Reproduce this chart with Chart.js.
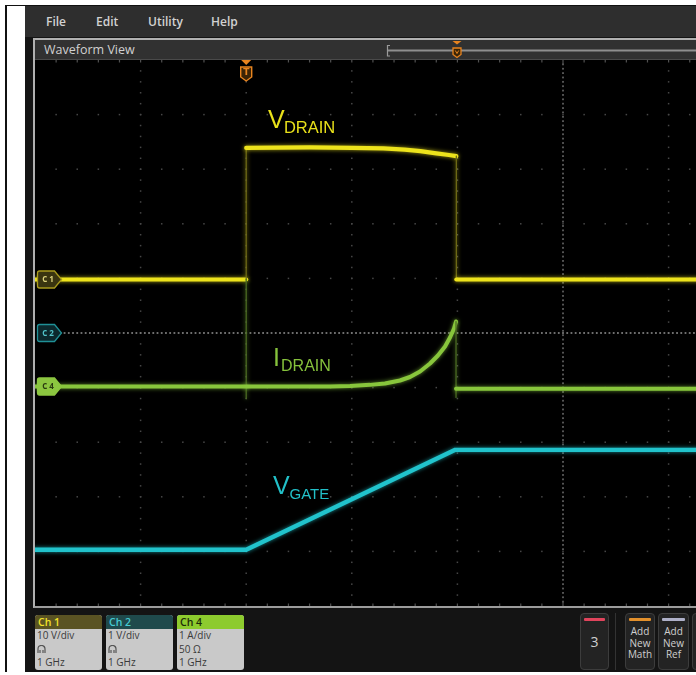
<!DOCTYPE html>
<html>
<head>
<meta charset="utf-8">
<script src="https://cdn.jsdelivr.net/npm/chart.js@4.4.1/dist/chart.umd.min.js"></script>
<style>
  html, body { margin: 0; padding: 0; width: 696px; height: 675px; overflow: hidden; background: #fff; }
  .abs { position: absolute; }
  #edgeL { left: 5px; top: 5px; width: 1.5px; height: 667px; background: #111; }
  #edgeT { left: 5px; top: 5px; width: 700px; height: 1px; background: #111; }
  #screen { left: 25px; top: 6px; width: 700px; height: 666px; background: #141414; }
  #menu { left: 25px; top: 6px; width: 700px; height: 31px; background: #2e2e2e;
          font: 600 12px "Open Sans", sans-serif; color: #d2d2d2; }
  #menu span { position: absolute; top: 7px; }
  #win { left: 33px; top: 38px; width: 700px; height: 566px; background: #000;
         border-left: 2px solid #b0b0b0; border-top: 2px solid #b0b0b0; border-bottom: 2px solid #9c9c9c; }
  #winhead { left: 35px; top: 40px; width: 700px; height: 19px; background: #313131; border-bottom: 1px solid #4a4a4a; }
  #winhead .title { position: absolute; left: 9px; top: 1px; font: 12.5px "Open Sans", sans-serif; color: #d0d0d0; }
  #plot { left: 35px; top: 60px; width: 1056px; height: 546px; }
  .chbox { position: absolute; top: 615px; width: 67px; height: 55px; border-radius: 3px; overflow: hidden;
           background: #c9c9c9; font: 10px "Open Sans", sans-serif; color: #3a3a3a; }
  .chbox .hd { height: 14px; line-height: 14px; padding-left: 3px; font-weight: 600; font-size: 10.5px; }
  .chbox .ln { height: 13.5px; line-height: 13.5px; padding-left: 2px; }
  .btn { position: absolute; top: 613px; height: 57px; background: #232323; border: 1px solid #3c3c3c;
         border-radius: 4px; box-sizing: border-box; font: 10px "Open Sans", sans-serif; color: #cfcfcf;
         text-align: center; }
  .btn .bar { position: absolute; left: 3px; right: 3px; top: 4px; height: 3px; border-radius: 1px; }
  .btn .txt { position: absolute; left: 0; right: 0; top: 12px; line-height: 11.5px; }
</style>
</head>
<body>
<div id="edgeL" class="abs"></div>
<div id="edgeT" class="abs"></div>
<div id="screen" class="abs"></div>
<div id="menu" class="abs">
  <span style="left:21px">File</span>
  <span style="left:71px">Edit</span>
  <span style="left:123px">Utility</span>
  <span style="left:186px">Help</span>
</div>
<div id="win" class="abs"></div>
<div id="winhead" class="abs">
  <div class="title">Waveform View</div>
  <svg class="abs" style="left:348px;top:0" width="360" height="19">
    <line x1="5" y1="10.5" x2="360" y2="10.5" stroke="#8e8e8e" stroke-width="2"/>
    <path d="M7 5.5 H4.5 V16 H7" fill="none" stroke="#9a9a9a" stroke-width="1.2"/>
    <path d="M69.5 1 H78.5 L74 4.5 Z" fill="#e8841f"/>
    <path d="M70 8 H78 V14.5 L74 17.5 L70 14.5 Z" fill="#3a2406" stroke="#e8841f" stroke-width="1.3"/>
    <path d="M72.3 10.5 L74 13.5 L75.7 10.5" fill="none" stroke="#e8841f" stroke-width="1"/>
  </svg>
</div>
<div id="plot" class="abs"><canvas id="scope" width="1056" height="546"></canvas></div>

<div class="chbox" style="left:35px">
  <div class="hd" style="background:#5a5323;color:#f2e22a">Ch 1</div>
  <div class="ln">10 V/div</div>
  <div class="ln"><svg width="10" height="9" style="vertical-align:-1px"><path d="M1 8 V4 A3.5 3.5 0 0 1 8 4 V8 M3 8 V5 M6 8 V5" fill="none" stroke="#555" stroke-width="1.2"/></svg></div>
  <div class="ln">1 GHz</div>
</div>
<div class="chbox" style="left:106px">
  <div class="hd" style="background:#1f4a4c;color:#46ccd3">Ch 2</div>
  <div class="ln">1 V/div</div>
  <div class="ln"><svg width="10" height="9" style="vertical-align:-1px"><path d="M1 8 V4 A3.5 3.5 0 0 1 8 4 V8 M3 8 V5 M6 8 V5" fill="none" stroke="#555" stroke-width="1.2"/></svg></div>
  <div class="ln">1 GHz</div>
</div>
<div class="chbox" style="left:177px">
  <div class="hd" style="background:#8dcb2e;color:#1c2a08">Ch 4</div>
  <div class="ln">1 A/div</div>
  <div class="ln">50 Ω</div>
  <div class="ln">1 GHz</div>
</div>

<div class="btn" style="left:580px;width:29px">
  <div class="bar" style="background:#e0445c"></div>
  <div class="txt" style="top:22px;font-size:14px">3</div>
</div>
<div class="abs" style="left:615px;top:613px;width:1px;height:57px;background:#333"></div>
<div class="btn" style="left:625px;width:30px">
  <div class="bar" style="background:#e3902c"></div>
  <div class="txt">Add<br>New<br>Math</div>
</div>
<div class="btn" style="left:658px;width:31px">
  <div class="bar" style="background:#aeb0c8"></div>
  <div class="txt">Add<br>New<br>Ref</div>
</div>
<div class="btn" style="left:692px;width:31px">
  <div class="bar" style="background:#9b52c6"></div>
</div>

<script>
// Time in horizontal divisions (0..10), levels in vertical divisions (-5..5)
const ch1Time  = [0, 2.00, 2.00, 2.60, 3.00, 3.30, 3.50, 3.65, 3.80, 3.92, 3.99, 3.99, 10];
const ch1Level = [0.98, 0.98, 3.39, 3.40, 3.39, 3.38, 3.36, 3.33, 3.29, 3.26, 3.24, 0.98, 0.98];

const ch4Time  = [0, 2.00, 2.00, 2.00, 2.00, 2.794, 2.983, 3.172, 3.314, 3.456, 3.551, 3.646, 3.741, 3.816, 3.883, 3.930, 3.968, 3.987, 3.987, 3.987, 10];
const ch4Level = [-0.98, -0.98, 0.98, -1.20, -0.98, -0.98, -0.97, -0.95, -0.925, -0.87, -0.806, -0.705, -0.558, -0.412, -0.247, -0.082, 0.082, 0.21, -1.18, -1.02, -1.02];

const ch2Time  = [0, 2.00, 3.98, 10];
const ch2Level = [-3.97, -3.97, -2.14, -2.14];

const channelNames   = ['C1', 'C2', 'C4'];
const channelOffsets = [0.98, 0, -0.98];
const triggerTime = 2.0;

const traceNames  = ['V', 'I', 'V'];
const traceSubs   = ['DRAIN', 'DRAIN', 'GATE'];

const toPoints = (t, v) => t.map((x, i) => ({ x, y: v[i] }));

// fast edges render as thin, dim lines like on a scope screen
const edges = (dim) => ({
  borderColor: c => (c.p0.parsed.x === c.p1.parsed.x ? dim : undefined),
  borderWidth: c => (c.p0.parsed.x === c.p1.parsed.x ? 1.3 : undefined)
});

const markerStyle = {
  C1: { fill: '#3a3510', stroke: '#a99b1d', text: '#dcd27c' },
  C2: { fill: '#0c292d', stroke: '#1f9096', text: '#52c4ca' },
  C4: { fill: '#8cc640', stroke: '#8cc640', text: '#2a3a10' }
};

const labelStyle = [
  { x: 2.206, y: 3.75, color: '#e9e11a', sub: 16.5, subX: 16, drop: 4.5 },
  { x: 2.254, y: -0.61, color: '#86c23c', sub: 16, subX: 8, drop: 5 },
  { x: 2.254, y: -2.94, color: '#22c0c8', sub: 15, subX: 16.5, drop: 5 }
];

const gridPlugin = {
  id: 'scopeGrid',
  beforeDatasetsDraw(chart) {
    const { ctx, chartArea: a, scales: { x, y } } = chart;
    ctx.save();
    // dotted major lines
    ctx.fillStyle = '#474747';
    for (let i = 1; i < 10; i++) {
      if (i === 5) continue;
      const px = x.getPixelForValue(i);
      for (let k = 1; k < 50; k++) {
        const py = y.getPixelForValue(-5 + k * 0.2);
        ctx.fillRect(px - 0.75, py - 0.75, 1.5, 1.5);
      }
    }
    for (let j = 1; j < 10; j++) {
      if (j === 5) continue;
      const py = y.getPixelForValue(-5 + j);
      for (let k = 1; k < 50; k++) {
        const px = x.getPixelForValue(k * 0.2);
        ctx.fillRect(px - 0.75, py - 0.75, 1.5, 1.5);
      }
    }
    // center crosshair with fine dots
    ctx.fillStyle = '#5e5e5e';
    const cx = x.getPixelForValue(5);
    for (let k = 1; k < 125; k++) {
      const py = y.getPixelForValue(-5 + k * 0.08);
      ctx.fillRect(cx - 0.9, py - 0.9, 1.8, 1.8);
    }
    ctx.fillStyle = '#7a7a7a';
    const cy = y.getPixelForValue(0);
    for (let k = 1; k < 250; k++) {
      const px = x.getPixelForValue(k * 0.04);
      ctx.fillRect(px - 0.9, cy - 0.9, 1.8, 1.8);
    }
    // edge ticks
    ctx.fillStyle = '#505050';
    for (let k = 1; k < 50; k++) {
      const px = x.getPixelForValue(k * 0.2);
      const len = k % 25 === 0 ? 5 : 2.5;
      ctx.fillRect(px - 0.6, a.top, 1.2, len);
      ctx.fillRect(px - 0.6, a.bottom - len, 1.2, len);
    }
    ctx.restore();
  },
  afterDatasetsDraw(chart) {
    const { ctx, chartArea: a, scales: { x, y } } = chart;
    ctx.save();
    // channel offset markers
    channelNames.forEach((name, i) => {
      const s = markerStyle[name];
      const py = y.getPixelForValue(channelOffsets[i]);
      const l = a.left + 2.5;
      ctx.beginPath();
      ctx.moveTo(l + 2, py - 8.5);
      ctx.lineTo(l + 17, py - 8.5);
      ctx.lineTo(l + 24, py);
      ctx.lineTo(l + 17, py + 8.5);
      ctx.lineTo(l + 2, py + 8.5);
      ctx.quadraticCurveTo(l, py + 8.5, l, py + 6.5);
      ctx.lineTo(l, py - 6.5);
      ctx.quadraticCurveTo(l, py - 8.5, l + 2, py - 8.5);
      ctx.closePath();
      ctx.fillStyle = s.fill;
      ctx.fill();
      ctx.lineWidth = 1.3;
      ctx.strokeStyle = s.stroke;
      ctx.stroke();
      ctx.fillStyle = s.text;
      ctx.font = 'bold 8px "Open Sans", sans-serif';
      ctx.textAlign = 'center';
      ctx.textBaseline = 'middle';
      ctx.fillText(name[0] + ' ' + name[1], l + 10.5, py + 0.5);
    });
    // trigger position marker
    const tx = x.getPixelForValue(triggerTime);
    const top = a.top;
    ctx.fillStyle = '#e8841f';
    ctx.beginPath();
    ctx.moveTo(tx - 5, top); ctx.lineTo(tx + 5, top); ctx.lineTo(tx, top + 5); ctx.closePath();
    ctx.fill();
    ctx.beginPath();
    ctx.moveTo(tx - 5.5, top + 7);
    ctx.lineTo(tx + 5.5, top + 7);
    ctx.lineTo(tx + 5.5, top + 17);
    ctx.lineTo(tx, top + 21);
    ctx.lineTo(tx - 5.5, top + 17);
    ctx.closePath();
    ctx.fillStyle = '#3a2306';
    ctx.fill();
    ctx.strokeStyle = '#e8841f';
    ctx.lineWidth = 1.4;
    ctx.stroke();
    ctx.fillStyle = '#e8841f';
    ctx.font = 'bold 9px "DejaVu Sans", sans-serif';
    ctx.textAlign = 'center';
    ctx.textBaseline = 'middle';
    ctx.fillText('T', tx, top + 12.5);
    // trace names
    ctx.textAlign = 'left';
    ctx.textBaseline = 'alphabetic';
    labelStyle.forEach((s, i) => {
      const px = x.getPixelForValue(s.x);
      const py = y.getPixelForValue(s.y);
      ctx.fillStyle = s.color;
      ctx.font = '25px "Liberation Sans", Arial, sans-serif';
      ctx.fillText(traceNames[i], px, py);
      ctx.font = s.sub + 'px "Liberation Sans", Arial, sans-serif';
      ctx.fillText(traceSubs[i], px + s.subX, py + s.drop);
    });
    ctx.restore();
  }
};

const glowPlugin = {
  id: 'traceGlow',
  beforeDatasetDraw(chart, args) {
    const ds = chart.data.datasets[args.index];
    chart.ctx.save();
    chart.ctx.shadowColor = ds.glow;
    chart.ctx.shadowBlur = 4;
  },
  afterDatasetDraw(chart) {
    chart.ctx.restore();
  }
};

new Chart(document.getElementById('scope'), {
  type: 'line',
  data: {
    datasets: [
      { label: 'Ch 2', data: toPoints(ch2Time, ch2Level), borderColor: '#21c3cc', glow: 'rgba(33,195,204,0.7)',
        borderWidth: 4.4, segment: edges('#1c6a6e') },
      { label: 'Ch 4', data: toPoints(ch4Time, ch4Level), borderColor: '#88c63c', glow: 'rgba(136,198,60,0.7)',
        borderWidth: 4, segment: edges('#4a6a22') },
      { label: 'Ch 1', data: toPoints(ch1Time, ch1Level), borderColor: '#ede31c', glow: 'rgba(237,227,28,0.7)',
        borderWidth: 4.2, segment: edges('#6e6a16') }
    ]
  },
  options: {
    responsive: false,
    devicePixelRatio: 1,
    animation: false,
    layout: { padding: 0 },
    parsing: true,
    elements: { point: { radius: 0 }, line: { tension: 0, borderJoinStyle: 'round', borderCapStyle: 'round' } },
    plugins: { legend: { display: false }, tooltip: { enabled: false } },
    scales: {
      x: { type: 'linear', min: 0, max: 10, display: false },
      y: { type: 'linear', min: -5, max: 5, display: false }
    }
  },
  plugins: [gridPlugin, glowPlugin]
});
</script>
</body>
</html>
